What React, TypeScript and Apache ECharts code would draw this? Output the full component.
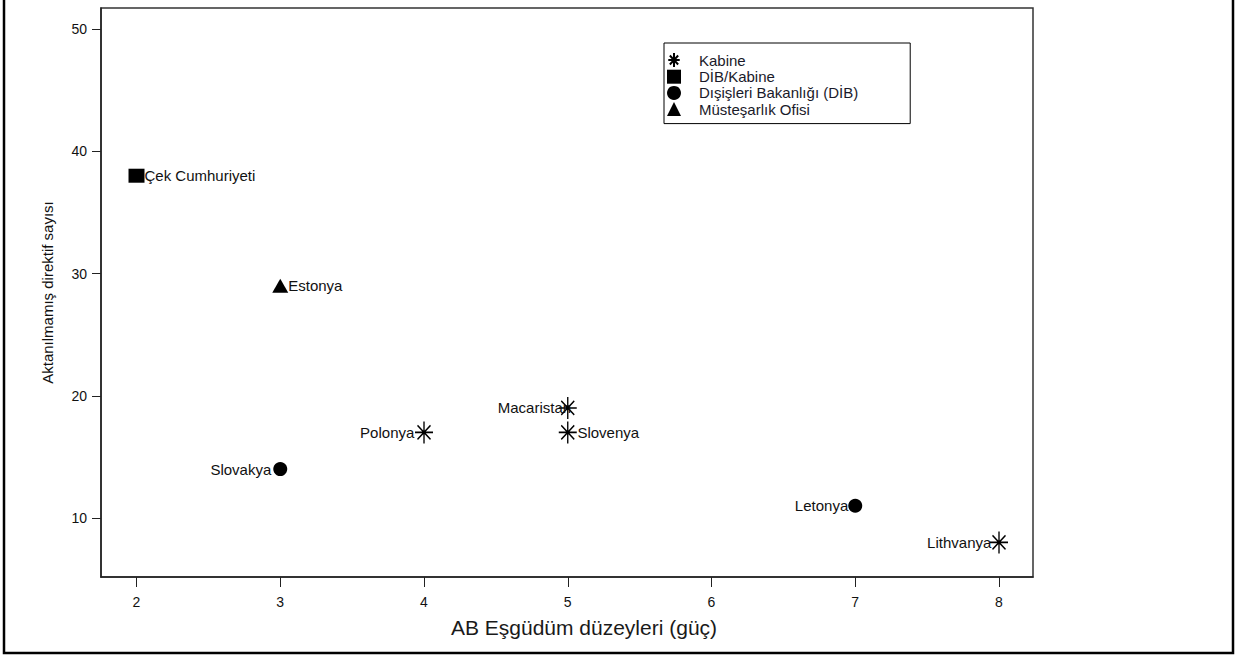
import React, { useEffect, useRef } from "react";
import * as echarts from "echarts";

// ---- data ----
const xTickValues = [2, 3, 4, 5, 6, 7, 8];
const yTickValues = [10, 20, 30, 40, 50];

const seriesNames = [
  "Kabine",
  "DİB/Kabine",
  "Dışişleri Bakanlığı (DİB)",
  "Müsteşarlık Ofisi",
];

const kabineCountries = ["Macaristan", "Polonya", "Slovenya", "Lithvanya"];
const kabineX = [5, 4, 5, 8];
const kabineY = [19, 17, 17, 8];

const dibKabineCountries = ["Çek Cumhuriyeti"];
const dibKabineX = [2];
const dibKabineY = [38];

const dibCountries = ["Slovakya", "Letonya"];
const dibX = [3, 7];
const dibY = [14, 11];

const mustesarlikCountries = ["Estonya"];
const mustesarlikX = [3];
const mustesarlikY = [29];

const xTitle = "AB Eşgüdüm düzeyleri (güç)";
const yTitle = "Aktanılmamış direktif sayısı";

// label placement (style, not data)
const labelSide: Record<string, { position: string; distance: number }> = {
  Macaristan: { position: "left", distance: -13 },
  Polonya: { position: "left", distance: 0 },
  Slovenya: { position: "right", distance: 0 },
  Lithvanya: { position: "left", distance: -2 },
  "Çek Cumhuriyeti": { position: "right", distance: 0 },
  Slovakya: { position: "left", distance: 2 },
  Letonya: { position: "left", distance: 0 },
  Estonya: { position: "right", distance: 0 },
};

const FONT = "'Liberation Sans', Arial, Helvetica, sans-serif";
const STAR =
  "path://M10,0L10,22M1,11L19,11M3.5,4L16.5,18M3.5,18L16.5,4";

function buildData(names: string[], xs: number[], ys: number[]) {
  return names.map((n, i) => ({
    name: n,
    value: [xs[i], ys[i]],
    label: {
      position: labelSide[n].position,
      distance: labelSide[n].distance,
    },
  }));
}

export default function App() {
  const ref = useRef<HTMLDivElement>(null);
  useEffect(() => {
    if (!ref.current) return;
    const chart = echarts.init(ref.current, null, { renderer: "svg" });
    const labelCommon = {
      show: true,
      formatter: "{b}",
      color: "#111",
      fontSize: 15,
      fontFamily: FONT,
      opacity: 1,
    };
    chart.setOption({
      animation: false,
      backgroundColor: "#ffffff",
      textStyle: { fontFamily: FONT },
      grid: {
        left: 101,
        top: 8,
        width: 932,
        height: 569,
        show: true,
        borderColor: "#333",
        borderWidth: 1.5,
        backgroundColor: "transparent",
      },
      legend: {
        left: 664,
        top: 43,
        orient: "vertical",
        itemWidth: 14,
        itemHeight: 14,
        itemGap: 1.2,
        padding: [9, 52, 7, 3],
        borderColor: "#000",
        borderWidth: 1,
        backgroundColor: "#fff",
        textStyle: {
          fontSize: 15,
          fontFamily: FONT,
          color: "#1a1a2a",
          padding: [0, 0, 0, 13],
          lineHeight: 14,
        },
        data: seriesNames,
      },
      xAxis: {
        type: "value",
        min: 1.753,
        max: 8.2365,
        axisLine: { show: true, onZero: false, lineStyle: { color: "#222", width: 1.5 } },
        axisTick: {
          show: true,
          length: 10,
          inside: false,
          customValues: xTickValues,
          lineStyle: { color: "#222", width: 1 },
        },
        axisLabel: {
          show: true,
          customValues: xTickValues,
          margin: 18,
          fontSize: 14,
          color: "#111",
          fontFamily: FONT,
        },
        splitLine: { show: false },
      },
      yAxis: {
        type: "value",
        min: 5.174,
        max: 51.72,
        name: yTitle,
        nameLocation: "middle",
        nameGap: 46,
        nameRotate: 90,
        nameTextStyle: { fontSize: 15, color: "#111", fontFamily: FONT },
        axisLine: { show: true, onZero: false, lineStyle: { color: "#222", width: 1.5 } },
        axisTick: {
          show: true,
          length: 9,
          inside: false,
          customValues: yTickValues,
          lineStyle: { color: "#222", width: 1 },
        },
        axisLabel: {
          show: true,
          customValues: yTickValues,
          margin: 14,
          fontSize: 14,
          color: "#111",
          fontFamily: FONT,
        },
        splitLine: { show: false },
      },
      graphic: [
        {
          type: "rect",
          shape: { x: 4, y: -10, width: 1229, height: 663 },
          style: { fill: "none", stroke: "#000", lineWidth: 2.5 },
          silent: true,
        },
        {
          type: "text",
          x: 584,
          y: 627,
          style: {
            text: xTitle,
            fontSize: 21,
            fontFamily: FONT,
            fill: "#1a1a1a",
            align: "center",
            verticalAlign: "middle",
          },
          silent: true,
        },
      ],
      series: [
        {
          name: seriesNames[0],
          type: "scatter",
          symbol: STAR,
          symbolSize: [18, 22],
          itemStyle: {
            color: "rgba(0,0,0,0)",
            borderColor: "#000",
            borderWidth: 1.5,
            opacity: 1,
          },
          label: labelCommon,
          data: buildData(kabineCountries, kabineX, kabineY),
        },
        {
          name: seriesNames[1],
          type: "scatter",
          symbol: "rect",
          symbolSize: [16, 14],
          itemStyle: { color: "#000", opacity: 1 },
          label: labelCommon,
          data: buildData(dibKabineCountries, dibKabineX, dibKabineY),
        },
        {
          name: seriesNames[2],
          type: "scatter",
          symbol: "circle",
          symbolSize: 14,
          itemStyle: { color: "#000", opacity: 1 },
          label: labelCommon,
          data: buildData(dibCountries, dibX, dibY),
        },
        {
          name: seriesNames[3],
          type: "scatter",
          symbol: "triangle",
          symbolSize: [16, 14],
          itemStyle: { color: "#000", opacity: 1 },
          label: labelCommon,
          data: buildData(mustesarlikCountries, mustesarlikX, mustesarlikY),
        },
      ],
    });
    return () => chart.dispose();
  }, []);
  return (
    <div
      ref={ref}
      style={{ position: "fixed", left: 0, top: 0, width: 1235, height: 657 }}
    />
  );
}
